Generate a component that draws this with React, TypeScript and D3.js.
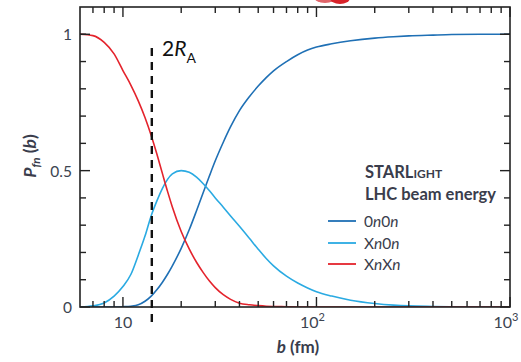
import React from "react";
import * as d3 from "d3";

const bValues = [6, 7, 8, 9, 10, 11, 12, 13, 14, 15, 16, 17, 18, 20, 22, 24, 26, 28, 30, 33, 36, 40, 45, 50, 55, 60, 70, 80, 90, 100, 120, 150, 200, 250, 300, 400, 500, 700, 1000];
const p0n0n = [0, 0, 0, 0, 0.001, 0.003, 0.008, 0.021, 0.04, 0.064, 0.091, 0.12, 0.151, 0.215, 0.283, 0.353, 0.42, 0.481, 0.536, 0.604, 0.661, 0.72, 0.771, 0.81, 0.841, 0.866, 0.9, 0.925, 0.942, 0.953, 0.965, 0.976, 0.986, 0.991, 0.994, 0.997, 0.999, 1, 1];
const pXn0n = [0, 0.004, 0.015, 0.04, 0.075, 0.12, 0.19, 0.26, 0.335, 0.39, 0.435, 0.468, 0.488, 0.5, 0.494, 0.476, 0.452, 0.426, 0.4, 0.366, 0.334, 0.296, 0.252, 0.212, 0.178, 0.151, 0.113, 0.088, 0.07, 0.056, 0.04, 0.025, 0.013, 0.007, 0.004, 0.002, 0.001, 0, 0];
const pXnXn = [1, 0.995, 0.97, 0.928, 0.867, 0.813, 0.756, 0.695, 0.629, 0.559, 0.489, 0.424, 0.367, 0.277, 0.213, 0.164, 0.126, 0.095, 0.071, 0.045, 0.028, 0.014, 0.008, 0.005, 0.003, 0.002, 0.001, 0, 0, 0, 0, 0, 0, 0, 0, 0, 0, 0, 0];

const seriesNames = ["0n0n", "Xn0n", "XnXn"];
const seriesColors = ["#1f70b5", "#2aaae2", "#e4232c"];
const seriesData = [p0n0n, pXn0n, pXnXn];

const xDomain: [number, number] = [6, 1000];
const yDomain: [number, number] = [0, 1.1];
const yMajorTicks = [0, 0.5, 1];
const yMinorTicks = [0.1, 0.2, 0.3, 0.4, 0.6, 0.7, 0.8, 0.9, 1.0];
const xMajorTicks = [10, 100, 1000];
const xMinorTicks = [7, 8, 9, 20, 30, 40, 50, 60, 70, 80, 90, 200, 300, 400, 500, 600, 700, 800, 900];
const twoRA = 14.1;

const FONT = "Lato, 'Open Sans', sans-serif";

export default function App() {
  const L = 80, R = 510, T = 7, B = 307;
  const x = d3.scaleLog().domain(xDomain).range([L, R]);
  const y = d3.scaleLinear().domain(yDomain).range([B, T]);
  const line = d3
    .line<number>()
    .x((_, i) => x(bValues[i]))
    .y((d) => y(d))
    .curve(d3.curveMonotoneX);
  const axisColor = "#222";
  const tickColor = "#3c4450";
  const textColor = "#3a3d4c";

  const legendY = [221, 243, 264];

  return (
    <svg width={521} height={362} style={{ position: "absolute", left: 0, top: 0, background: "#fff" }} fontFamily={FONT}>
      <defs>
        <clipPath id="plotclip">
          <rect x={L} y={T} width={R - L} height={B - T} />
        </clipPath>
      </defs>
      {/* red artifact at top */}
      <ellipse cx={325} cy={-3} rx={11} ry={6} fill="#e0656a" />
      <ellipse cx={340} cy={-2} rx={10} ry={6} fill="#d8232a" />

      {/* curves */}
      <g clipPath="url(#plotclip)">
        {seriesData.map((s, k) => (
          <path key={k} d={line(s) || ""} fill="none" stroke={seriesColors[k]} strokeWidth={1.6} />
        ))}
      </g>

      {/* frame */}
      <rect x={L} y={T} width={R - L} height={B - T} fill="none" stroke={axisColor} strokeWidth={1.6} />

      {/* y ticks */}
      {yMinorTicks.map((t) => (
        <g key={"ym" + t}>
          <line x1={L} x2={L + 6} y1={y(t)} y2={y(t)} stroke={axisColor} strokeWidth={1.4} />
          <line x1={R} x2={R - 6} y1={y(t)} y2={y(t)} stroke={axisColor} strokeWidth={1.4} />
        </g>
      ))}
      {yMajorTicks.map((t) => (
        <g key={"yM" + t}>
          <line x1={L} x2={L + 10} y1={y(t)} y2={y(t)} stroke={axisColor} strokeWidth={1.4} />
          <line x1={R} x2={R - 10} y1={y(t)} y2={y(t)} stroke={axisColor} strokeWidth={1.4} />
          <text x={L - 8} y={y(t) + 6} textAnchor="end" fontSize={15.5} fill={tickColor}>
            {t === 0 ? "0" : t === 1 ? "1" : "0.5"}
          </text>
        </g>
      ))}

      {/* x ticks */}
      {xMinorTicks.map((t) => (
        <g key={"xm" + t}>
          <line x1={x(t)} x2={x(t)} y1={B} y2={B - 6} stroke={axisColor} strokeWidth={1.4} />
          <line x1={x(t)} x2={x(t)} y1={T} y2={T + 6} stroke={axisColor} strokeWidth={1.4} />
        </g>
      ))}
      {xMajorTicks.map((t, i) => (
        <g key={"xM" + t}>
          <line x1={x(t)} x2={x(t)} y1={B} y2={B - 10} stroke={axisColor} strokeWidth={1.4} />
          <line x1={x(t)} x2={x(t)} y1={T} y2={T + 10} stroke={axisColor} strokeWidth={1.4} />
          <text x={x(t) + (i === 0 ? 0 : -4)} y={B + 21} textAnchor="middle" fontSize={16} fill={tickColor}>
            10
            {i > 0 && (
              <tspan dy={-7} fontSize={11}>
                {i + 1}
              </tspan>
            )}
          </text>
        </g>
      ))}

      {/* 2R_A dashed line */}
      <line x1={x(twoRA)} x2={x(twoRA)} y1={48} y2={322} stroke="#111" strokeWidth={2.4} strokeDasharray="8,6" />
      <text x={162} y={56} fontSize={21} fill="#111">
        2<tspan fontStyle="italic">R</tspan>
        <tspan fontSize={14} dy={7}>A</tspan>
      </text>

      {/* axis labels */}
      <text x={298} y={353} textAnchor="middle" fontSize={17} fontWeight="bold" fill={textColor}>
        <tspan fontStyle="italic">b</tspan> (fm)
      </text>
      <text transform="translate(36,156) rotate(-90)" textAnchor="middle" fontSize={17.5} fontWeight="bold" fill={textColor}>
        <tspan fontStyle="italic">P</tspan>
        <tspan fontStyle="italic" fontSize={11.5} dy={4}>fn</tspan>
        <tspan dy={-4}> (</tspan>
        <tspan fontStyle="italic">b</tspan>)
      </text>

      {/* legend */}
      <text x={365} y={178} fontSize={16.5} fontWeight="bold" fill={textColor}>
        STARL<tspan fontSize={12}>IGHT</tspan>
      </text>
      <text x={365} y={200} fontSize={16.5} fontWeight="bold" fill={textColor}>
        LHC beam energy
      </text>
      {seriesNames.map((n, k) => (
        <g key={n}>
          <line x1={328} x2={356} y1={legendY[k]} y2={legendY[k]} stroke={seriesColors[k]} strokeWidth={1.8} />
          <text x={364} y={legendY[k] + 5.5} fontSize={15.5} fill={textColor}>
            {n.slice(0, 1)}
            <tspan fontStyle="italic">n</tspan>
            {n.slice(2, 3)}
            <tspan fontStyle="italic">n</tspan>
          </text>
        </g>
      ))}
    </svg>
  );
}
